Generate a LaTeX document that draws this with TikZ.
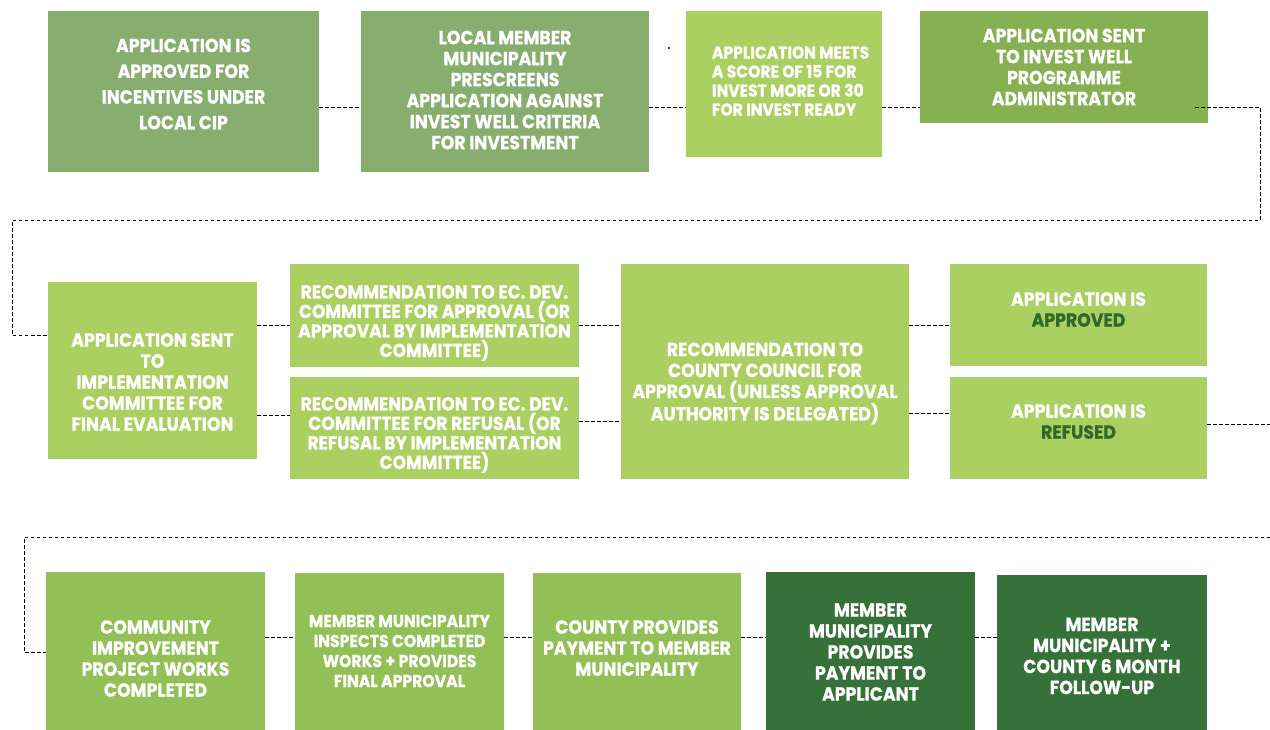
\documentclass[tikz,border=0pt]{standalone}
\usepackage{fontspec}
\setmainfont[FakeStretch=0.91,BoldFeatures={FakeBold=0.6}]{Poppins}
\usepackage{tikz}
\usetikzlibrary{positioning}
\definecolor{boxsage}{RGB}{135,174,111}
\definecolor{boxleaf}{RGB}{134,176,82}
\definecolor{boxlime}{RGB}{169,208,96}
\definecolor{boxgrass}{RGB}{146,192,86}
\definecolor{boxforest}{RGB}{55,113,58}
\definecolor{wordgreen}{RGB}{45,105,42}
\tikzset{
    % 方框：只有底色，没有边框
    greenbox/.style={
        rectangle,
        inner sep=0pt,
        draw=none,
        fill=#1
    },
    % 方框里的白色大写文字
    boxtext/.style={
        white,
        align=center,
        inner sep=0pt,
        font=\bfseries\fontsize{19}{21}\selectfont
    },
    % 虚线连接
    dashline/.style={
        line width=1pt,
        black,
        dash pattern=on 3.5pt off 2.5pt
    }
}

\begin{document}
\begin{tikzpicture}[x=1pt,y=-1pt]
    \useasboundingbox (0,0) rectangle (1270,729);
    \clip (0,0) rectangle (1270,729);

    % ===================== 第一行 =====================
    \node[greenbox=boxsage, minimum width=271pt, minimum height=161pt] (b1) at (183.5,91.5) {};
    \node[greenbox=boxsage, minimum width=288pt, minimum height=161pt] (b2) at (505,91.5) {};
    \node[greenbox=boxlime, minimum width=196pt, minimum height=146pt] (b3) at (784,84) {};
    \node[greenbox=boxleaf, minimum width=288pt, minimum height=112pt] (b4) at (1064,67) {};

    \node[boxtext, font=\bfseries\fontsize{19}{25.7}\selectfont] (t1) at ([yshift=7.5pt]b1.center)
        {APPLICATION IS\\APPROVED FOR\\INCENTIVES UNDER\\LOCAL CIP};
    \node[boxtext] (t2) at ([yshift=1.5pt]b2.center)
        {LOCAL MEMBER\\MUNICIPALITY\\PRESCREENS\\APPLICATION AGAINST\\INVEST WELL CRITERIA\\FOR INVESTMENT};
    \node[boxtext, align=left, anchor=west, font=\bfseries\fontsize{17.1}{19}\selectfont] (t3) at ([xshift=26pt,yshift=3pt]b3.west)
        {APPLICATION MEETS\\A SCORE OF 15 FOR\\INVEST MORE OR 30\\FOR INVEST READY};
    \node[boxtext] (t4) at (b4.center)
        {APPLICATION SENT\\TO INVEST WELL\\PROGRAMME\\ADMINISTRATOR};

    % 小黑点
    \fill[black] (669,48) circle (1.1pt);

    % ===================== 第二行 =====================
    \node[greenbox=boxlime, minimum width=209pt, minimum height=177pt] (b5) at (152.5,370.5) {};
    \node[greenbox=boxlime, minimum width=289pt, minimum height=103pt] (b6a) at (434.5,315.5) {};
    \node[greenbox=boxlime, minimum width=289pt, minimum height=102pt] (b6b) at (434.5,428) {};
    \node[greenbox=boxlime, minimum width=288pt, minimum height=215pt] (b7) at (765,371.5) {};
    \node[greenbox=boxlime, minimum width=257pt, minimum height=102pt] (b8a) at (1078.5,315) {};
    \node[greenbox=boxlime, minimum width=257pt, minimum height=102pt] (b8b) at (1078.5,428) {};

    \node[boxtext] (t5) at ([yshift=-11.5pt]b5.center)
        {APPLICATION SENT\\TO\\IMPLEMENTATION\\COMMITTEE FOR\\FINAL EVALUATION};
    \node[boxtext, font=\bfseries\fontsize{18.8}{19.5}\selectfont] (t6a) at ([yshift=-7.5pt]b6a.center)
        {RECOMMENDATION TO EC. DEV.\\COMMITTEE FOR APPROVAL (OR\\APPROVAL BY IMPLEMENTATION\\COMMITTEE)};
    \node[boxtext, font=\bfseries\fontsize{18.8}{19.5}\selectfont] (t6b) at ([yshift=-7pt]b6b.center)
        {RECOMMENDATION TO EC. DEV.\\COMMITTEE FOR REFUSAL (OR\\REFUSAL BY IMPLEMENTATION\\COMMITTEE)};
    \node[boxtext] (t7) at ([yshift=-12pt]b7.center)
        {RECOMMENDATION TO\\COUNTY COUNCIL FOR\\APPROVAL (UNLESS APPROVAL\\AUTHORITY IS DELEGATED)};
    \node[boxtext] (t8a) at ([yshift=5.5pt]b8a.center)
        {APPLICATION IS\\\textcolor{wordgreen}{APPROVED}};
    \node[boxtext] (t8b) at ([yshift=6.5pt]b8b.center)
        {APPLICATION IS\\\textcolor{wordgreen}{REFUSED}};

    % ===================== 第三行 =====================
    \node[greenbox=boxgrass, minimum width=219pt, minimum height=173pt] (b9) at (155.5,658.5) {};
    \node[greenbox=boxgrass, minimum width=209pt, minimum height=172pt] (b10) at (399.5,659) {};
    \node[greenbox=boxgrass, minimum width=208pt, minimum height=172pt] (b11) at (637,659) {};
    \node[greenbox=boxforest, minimum width=209pt, minimum height=173pt] (b12) at (870.5,658.5) {};
    \node[greenbox=boxforest, minimum width=210pt, minimum height=170pt] (b13) at (1102,660) {};

    \node[boxtext] (t9) at (b9.center)
        {COMMUNITY\\IMPROVEMENT\\PROJECT WORKS\\COMPLETED};
    \node[boxtext, font=\bfseries\fontsize{17.2}{20}\selectfont] (t10) at ([yshift=8pt]b10.center)
        {MEMBER MUNICIPALITY\\INSPECTS COMPLETED\\WORKS + PROVIDES\\FINAL APPROVAL};
    \node[boxtext] (t11) at ([yshift=11pt]b11.center)
        {COUNTY PROVIDES\\PAYMENT TO MEMBER\\MUNICIPALITY};
    \node[boxtext] (t12) at ([yshift=6.5pt]b12.center)
        {MEMBER\\MUNICIPALITY\\PROVIDES\\PAYMENT TO\\APPLICANT};
    \node[boxtext] (t13) at ([yshift=4pt]b13.center)
        {MEMBER\\MUNICIPALITY +\\COUNTY 6 MONTH\\FOLLOW-UP};

    % ===================== 虚线 =====================
    \path
    (0,107) coordinate (y1)
    (0,325) coordinate (y2)
    (0,415) coordinate (y3)
    (0,421) coordinate (y4)
    (0,413) coordinate (y5)
    (0,424) coordinate (y6)
    (0,637) coordinate (y7)

    (1195,107) coordinate (p1)
    (1260,220) coordinate (p2)
    (12,335) coordinate (p3)
    (1270,424) coordinate (q1)
    (1270,537) coordinate (q2)
    (24,652) coordinate (q3);

    % 第一行
    \draw[dashline] (b1.east |- y1) -- (b2.west |- y1);
    \draw[dashline] (b2.east |- y1) -- (b3.west |- y1);
    \draw[dashline] (b3.east |- y1) -- (b4.west |- y1);
    \draw[dashline] (p1) -| (p2) -| (p3) -- (b5.west |- p3);
    % 第二行
    \draw[dashline] (b5.east |- y2) -- (b6a.west |- y2);
    \draw[dashline] (b5.east |- y3) -- (b6b.west |- y3);
    \draw[dashline] (b6a.east |- y2) -- (b7.west |- y2);
    \draw[dashline] (b6b.east |- y4) -- (b7.west |- y4);
    \draw[dashline] (b7.east |- y2) -- (b8a.west |- y2);
    \draw[dashline] (b7.east |- y5) -- (b8b.west |- y5);
    \draw[dashline] (b8b.east |- y6) -- (q1);
    % 第三行
    \draw[dashline] (q2) -| (q3) -- (b9.west |- q3);
    \draw[dashline] (b9.east |- y7) -- (b10.west |- y7);
    \draw[dashline] (b10.east |- y7) -- (b11.west |- y7);
    \draw[dashline] (b11.east |- y7) -- (b12.west |- y7);
    \draw[dashline] (b12.east |- y7) -- (b13.west |- y7);
\end{tikzpicture}
\end{document}
